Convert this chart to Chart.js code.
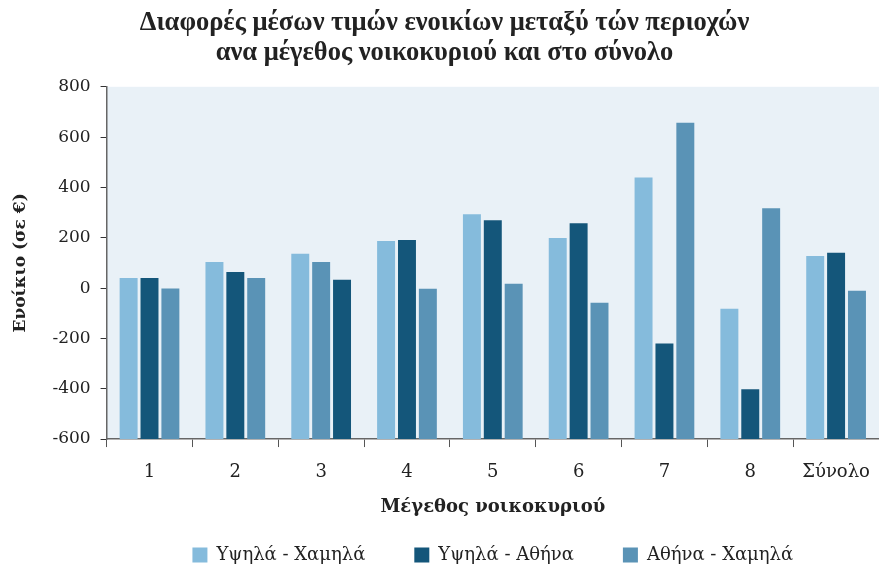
<!DOCTYPE html>
<html>
<head>
<meta charset="utf-8">
<script src="https://cdn.jsdelivr.net/npm/chart.js@4/dist/chart.umd.min.js"></script>
<style>
  body { margin: 0; background: #fff; }
  #wrap { width: 879px; height: 564px; }
</style>
</head>
<body>
<div id="wrap"><canvas id="rentChart" width="879" height="564"></canvas></div>
<script>
// categories (household size) and the three series of differences
const categories = ['1', '2', '3', '4', '5', '6', '7', '8', 'Σύνολο'];
const highLow = [40, 104, 136, 187, 293, 199, 440, -82, 128];
const highAthens = [40, 64, 104, 191, 270, 258, -220, -402, 140];
const athensLow = [0, 40, 33, -3, 17, -58, 657, 317, -11];
const seriesNames = ['Υψηλά - Χαμηλά', 'Υψηλά - Αθήνα', 'Αθήνα - Χαμηλά'];
const yTicks = [-600, -400, -200, 0, 200, 400, 600, 800];

const LIGHT = '#85bbdc';
const DARK = '#14567a';
const MEDIUM = '#5a93b6';
const Y_MIN = yTicks[0];
const Y_MAX = yTicks[yTicks.length - 1];

// bars in the picture grow from the bottom of the axis, not from zero
const fromBottom = arr => arr.map(v => [Y_MIN, v]);

// in group "3" the picture has the 2nd and 3rd colours swapped
const darkColors = categories.map((c, i) => i === 2 ? MEDIUM : DARK);
const mediumColors = categories.map((c, i) => i === 2 ? DARK : MEDIUM);

const plotBackground = {
  id: 'plotBackground',
  beforeDraw(chart) {
    const { ctx, chartArea } = chart;
    ctx.save();
    ctx.fillStyle = '#e9f1f7';
    ctx.fillRect(chartArea.left, chartArea.top, chartArea.right - chartArea.left, chartArea.bottom - chartArea.top);
    ctx.restore();
  }
};

const serif = 'DejaVu Serif';

new Chart(document.getElementById('rentChart'), {
  type: 'bar',
  data: {
    labels: categories,
    datasets: [
      { label: seriesNames[0], data: fromBottom(highLow), backgroundColor: LIGHT },
      { label: seriesNames[1], data: fromBottom(highAthens), backgroundColor: darkColors },
      { label: seriesNames[2], data: fromBottom(athensLow), backgroundColor: mediumColors }
    ]
  },
  options: {
    responsive: false,
    animation: false,
    categoryPercentage: 0.73,
    barPercentage: 0.86,
    layout: { padding: { top: 9, right: 0, left: 10, bottom: 0 } },
    plugins: {
      title: {
        display: true,
        text: ['Διαφορές μέσων τιμών ενοικίων μεταξύ τών περιοχών', 'ανα μέγεθος νοικοκυριού και στο σύνολο'],
        color: '#222',
        font: { family: 'Liberation Serif', size: 26.5, weight: 'bold', lineHeight: 1.1 },
        padding: { top: 0, bottom: 19.5 }
      },
      legend: {
        position: 'bottom',
        fullSize: false,
        maxHeight: 67,
        labels: {
          color: '#222',
          boxWidth: 15,
          boxHeight: 15,
          padding: 49,
          generateLabels(chart) {
            return chart.data.datasets.map((ds, i) => ({
              text: ds.label,
              fillStyle: [LIGHT, DARK, MEDIUM][i],
              strokeStyle: [LIGHT, DARK, MEDIUM][i],
              lineWidth: 0,
              datasetIndex: i,
              fontColor: '#222'
            }));
          },
          font: { family: serif, size: 18 }
        }
      },
      tooltip: { enabled: false }
    },
    scales: {
      x: {
        grid: { drawOnChartArea: false, tickLength: 8, color: '#555', offset: true },
        border: { color: '#666', width: 1.5 },
        ticks: { color: '#222', font: { family: serif, size: 18, lineHeight: 2.33 }, padding: 4 },
        title: {
          display: true,
          text: 'Μέγεθος νοικοκυριού',
          color: '#222',
          font: { family: serif, size: 18, weight: 'bold' },
          padding: { top: 0, bottom: -21.6 }
        }
      },
      y: {
        min: Y_MIN,
        max: Y_MAX,
        afterBuildTicks(scale) {
          scale.ticks = yTicks.map(v => ({ value: v }));
        },
        grid: { drawOnChartArea: false, tickLength: 6, color: '#333' },
        border: { color: '#666', width: 1.5 },
        ticks: { color: '#222', font: { family: serif, size: 17 }, padding: 10 },
        title: {
          display: true,
          text: 'Ενοίκιο (σε €)',
          color: '#222',
          font: { family: serif, size: 17, weight: 'bold' },
          padding: { top: 0, bottom: 12 }
        }
      }
    }
  },
  plugins: [plotBackground]
});
</script>
</body>
</html>
